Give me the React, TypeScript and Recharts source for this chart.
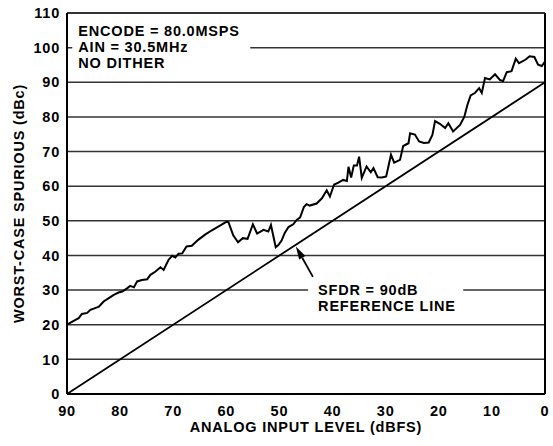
import React from "react"
import {
  LineChart,
  Line,
  XAxis,
  YAxis,
  CartesianGrid,
  ReferenceLine,
  ReferenceArea,
} from "recharts"

// analog input level (dBFS) and worst-case spur (dBc)
const inputLevel = [
  90, 88.4, 87.8, 87.2, 86.2, 85.6, 84.7, 84.0, 83.1, 82.2, 81.2, 80.3, 79.6, 78.7, 78.1, 77.4,
  76.8, 75.9, 74.9, 74.3, 73.4, 72.4, 71.8, 70.9, 70.2, 69.6, 69.0, 68.3, 67.5, 66.5, 65.3, 64.0,
  62.8, 61.2, 60.0, 59.6, 58.7, 57.8, 56.9, 56.0, 55.0, 54.2, 53.0, 52.1, 51.6, 50.7, 50.2, 49.6,
  49.0, 48.3, 47.4, 46.8, 46.1, 45.4, 44.9, 44.3, 43.0, 42.0, 41.1, 40.5, 39.7, 38.9, 38.0, 37.3,
  37.0, 36.5, 36.0, 35.4, 35.0, 34.5, 33.6, 32.8, 32.3, 31.5, 30.7, 29.9, 29.0, 28.4, 27.3, 26.7,
  25.7, 25.4, 24.5, 23.7, 22.8, 21.9, 21.2, 20.7, 19.8, 18.8, 18.2, 17.3, 16.0, 15.2, 14.6, 14.0,
  13.2, 12.4, 11.9, 11.3, 10.4, 9.4, 8.5, 7.9, 7.2, 6.3, 5.5, 4.9, 3.7, 2.9, 2.0, 1.3, 0.6, 0,
]
const worstSpur = [
  20.0, 21.4, 21.9, 23.1, 23.4, 24.3, 24.8, 25.2, 26.7, 27.6, 28.6, 29.3, 29.6, 30.5, 31.2, 30.8,
  32.5, 32.9, 33.1, 34.4, 35.3, 36.6, 35.8, 38.7, 39.9, 39.4, 40.5, 40.6, 42.6, 42.8, 44.5, 46.0,
  47.2, 48.6, 49.7, 49.6, 45.8, 43.8, 45.0, 44.8, 49.0, 46.3, 47.4, 46.9, 48.8, 42.4, 43.0, 44.3,
  46.5, 48.2, 49.0, 50.2, 51.0, 54.0, 54.8, 54.4, 55.0, 56.5, 58.8, 57.0, 60.5, 61.0, 61.8, 61.5,
  65.6, 62.5, 66.0, 66.0, 68.5, 62.4, 65.7, 64.0, 65.2, 62.6, 62.5, 62.8, 69.1, 66.8, 67.6, 71.6,
  72.4, 75.3, 74.9, 72.9, 72.5, 72.6, 74.8, 78.8, 78.0, 76.8, 78.2, 75.8, 77.7, 80.0, 83.5, 86.2,
  86.9, 88.3, 86.9, 91.2, 90.8, 92.3, 90.7, 90.3, 92.9, 93.2, 96.8, 95.5, 96.5, 97.5, 97.3, 95.1,
  94.7, 96.0,
]

// SFDR = 90dB reference line
const refLevel = [90, 0]
const refSpur = [0, 90]

const xTicks = [90, 80, 70, 60, 50, 40, 30, 20, 10, 0]
const yTicks = [0, 10, 20, 30, 40, 50, 60, 70, 80, 90, 100, 110]

const conditionText = ["ENCODE = 80.0MSPS", "AIN = 30.5MHz", "NO DITHER"]
const refText = ["SFDR = 90dB", "REFERENCE LINE"]

const spurData = inputLevel.map((x, i) => ({ x, y: worstSpur[i] }))
const refData = refLevel.map((x, i) => ({ x, y: refSpur[i] }))

const FONT = 14.5

function YTitle(props: any) {
  const vb = props.viewBox
  const cx = vb.x + 19
  const cy = vb.y + vb.height / 2
  return (
    <text
      x={cx}
      y={cy}
      transform={`rotate(-90 ${cx} ${cy})`}
      textAnchor="middle"
      dominantBaseline="central"
      fontSize={FONT}
      fontWeight={700}
      fill="#000"
    >
      WORST-CASE SPURIOUS (dBc)
    </text>
  )
}

function boxText(lines: string[], dx: number, dy: number) {
  return (props: any) => {
    const vb = props.viewBox
    return (
      <text x={vb.x + dx} y={vb.y + dy} fontSize={FONT} fontWeight={700} fill="#000">
        {lines.map((l, i) => (
          <tspan key={l} x={vb.x + dx} dy={i === 0 ? 0 : 16}>
            {l}
          </tspan>
        ))}
      </text>
    )
  }
}

function Arrow(p: any) {
  const { x1, y1, x2, y2 } = p
  const dx = x2 - x1
  const dy = y2 - y1
  const len = Math.hypot(dx, dy) || 1
  const ux = dx / len
  const uy = dy / len
  const hl = 13
  const hw = 3.6
  const bx = x2 - ux * hl
  const by = y2 - uy * hl
  return (
    <g>
      <line x1={x1} y1={y1} x2={bx} y2={by} stroke="#000" strokeWidth={1.8} />
      <polygon
        points={`${x2},${y2} ${bx - uy * hw},${by + ux * hw} ${bx + uy * hw},${by - ux * hw}`}
        fill="#000"
      />
    </g>
  )
}

export default function App() {
  return (
    <div
      style={{
        position: "absolute",
        left: 0,
        top: 0,
        background: "#fff",
        fontFamily: "'Liberation Sans', Arial, sans-serif",
        letterSpacing: "0.8px",
      }}
    >
      <LineChart width={553} height={446} margin={{ top: 13, right: 8, bottom: 0, left: 0 }}>
        <CartesianGrid vertical={false} stroke="#333" strokeWidth={1.5} />
        <XAxis
          type="number"
          dataKey="x"
          domain={[0, 90]}
          reversed
          ticks={xTicks}
          interval={0}
          height={52}
          tickLine={false}
          tickSize={6}
          tickMargin={6}
          axisLine={{ stroke: "#000", strokeWidth: 2 }}
          tick={{ fill: "#000", fontSize: FONT, fontWeight: 700 }}
          label={{
            value: "ANALOG INPUT LEVEL (dBFS)",
            position: "insideBottom",
            offset: 14,
            fill: "#000",
            fontSize: FONT,
            fontWeight: 700,
          }}
        />
        <YAxis
          type="number"
          domain={[0, 110]}
          ticks={yTicks}
          interval={0}
          width={67}
          tickLine={false}
          tickSize={6}
          tickMargin={1}
          axisLine={{ stroke: "#000", strokeWidth: 2 }}
          tick={{ fill: "#000", fontSize: FONT, fontWeight: 700 }}
          label={{ content: YTitle }}
        />
        <ReferenceLine x={0} stroke="#000" strokeWidth={2} />
        <ReferenceLine y={110} stroke="#222" strokeWidth={1.6} />
        <ReferenceArea
          x1={89}
          x2={55.5}
          y1={92}
          y2={108}
          fill="#fff"
          fillOpacity={1}
          stroke="none"
          label={{ content: boxText(conditionText, 6, 15.7) }}
        />
        <ReferenceArea
          x1={44.6}
          x2={15.4}
          y1={22}
          y2={33}
          fill="#fff"
          fillOpacity={1}
          stroke="none"
          label={{ content: boxText(refText, 10, 15.2) }}
        />
        <ReferenceLine
          segment={[
            { x: 43.7, y: 33.8 },
            { x: 46.9, y: 42.6 },
          ]}
          shape={Arrow}
        />
        <Line
          data={refData}
          dataKey="y"
          stroke="#000"
          strokeWidth={1.8}
          dot={false}
          isAnimationActive={false}
        />
        <Line
          data={spurData}
          dataKey="y"
          type="linear"
          stroke="#000"
          strokeWidth={2}
          dot={false}
          isAnimationActive={false}
        />
      </LineChart>
    </div>
  )
}
